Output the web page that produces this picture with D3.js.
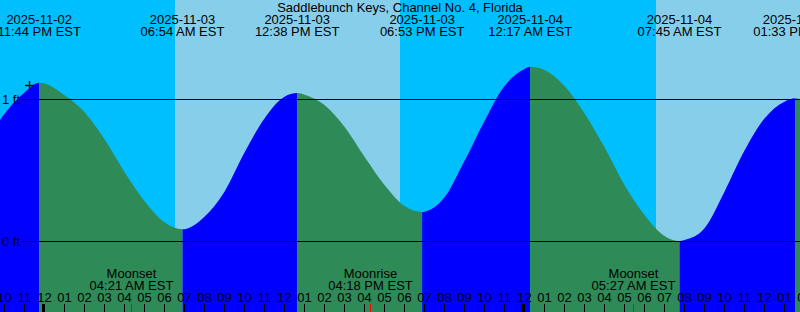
<!DOCTYPE html>
<html><head><meta charset="utf-8">
<script src="https://cdn.jsdelivr.net/npm/d3@7"></script>
<style>html,body{margin:0;padding:0;background:#00BFFF;overflow:hidden;} svg{display:block;}</style>
</head><body>
<svg id="chart" width="800" height="312"></svg>
<script>
// ---------- data ----------
const title = "Saddlebunch Keys, Channel No. 4, Florida";
const viewStart = "2025-11-02 21:46:30";
const viewEnd = "2025-11-04 13:46:30";

const tideTimes = [
  "2025-11-02 21:00","2025-11-02 22:00","2025-11-02 23:00","2025-11-02 23:44",
  "2025-11-03 00:00","2025-11-03 01:00","2025-11-03 02:00","2025-11-03 03:00",
  "2025-11-03 04:00","2025-11-03 05:00","2025-11-03 06:00","2025-11-03 06:54",
  "2025-11-03 07:00","2025-11-03 08:00","2025-11-03 09:00","2025-11-03 10:00",
  "2025-11-03 11:00","2025-11-03 12:00","2025-11-03 12:38","2025-11-03 13:00",
  "2025-11-03 14:00","2025-11-03 15:00","2025-11-03 16:00","2025-11-03 17:00",
  "2025-11-03 18:00","2025-11-03 18:53","2025-11-03 19:00","2025-11-03 20:00",
  "2025-11-03 21:00","2025-11-03 22:00","2025-11-03 23:00","2025-11-04 00:00",
  "2025-11-04 00:17","2025-11-04 01:00","2025-11-04 02:00","2025-11-04 03:00",
  "2025-11-04 04:00","2025-11-04 05:00","2025-11-04 06:00","2025-11-04 07:00",
  "2025-11-04 07:45","2025-11-04 08:00","2025-11-04 09:00","2025-11-04 10:00",
  "2025-11-04 11:00","2025-11-04 12:00","2025-11-04 13:00","2025-11-04 13:33",
  "2025-11-04 14:00"
];
const tideHeights = [
  0.68, 0.90, 1.05, 1.118,
  1.112, 1.03, 0.912, 0.72,
  0.49, 0.285, 0.135, 0.086,
  0.087, 0.175, 0.351, 0.626,
  0.867, 1.02, 1.046, 1.034,
  0.961, 0.808, 0.597, 0.398,
  0.25, 0.208, 0.21, 0.311,
  0.567, 0.849, 1.095, 1.215,
  1.231, 1.208, 1.095, 0.903,
  0.663, 0.398, 0.187, 0.039,
  0.003, 0.01, 0.093, 0.351,
  0.64, 0.867, 0.985, 1.008,
  0.995
];

const eventTimes = ["2025-11-02 23:44","2025-11-03 06:54","2025-11-03 12:38","2025-11-03 18:53",
                    "2025-11-04 00:17","2025-11-04 07:45","2025-11-04 13:33"];
const eventKinds = ["high","low","high","low","high","low","high"];

const sunTimes = ["2025-11-03 06:32","2025-11-03 17:46","2025-11-04 06:34"];
const sunKinds = ["sunrise","sunset","sunrise"];

const moonTimes = ["2025-11-03 04:21","2025-11-03 16:18","2025-11-04 05:27"];
const moonLabels = ["Moonset","Moonrise","Moonset"];

const datumLevels = [0, 1];
const datumLabels = ["0 ft", "1 ft"];

const markTime = "2025-11-02 23:16";
const markLevel = 1.10;

const tickStart = "2025-11-02 21:00";
const tickEnd = "2025-11-04 14:00";

// ---------- setup ----------
const W = 800, H = 312;
const FONT = "'Liberation Sans', Arial, sans-serif";
const colNight = "#00BFFF", colDay = "#87CEEB", colFlood = "#0000FF", colEbb = "#2E8B57";
const p = d3.utcParse("%Y-%m-%d %H:%M");
const ps = d3.utcParse("%Y-%m-%d %H:%M:%S");
const t0 = ps(viewStart), t1 = ps(viewEnd);

const x = d3.scaleUtc().domain([t0, t1]).range([0, W]);
const y = d3.scaleLinear().domain([0, 1]).range([241.5, 99.5]);

const svg = d3.select("#chart");

// sky bands
const sun = sunTimes.map(p);
const skyEdges = [t0, ...sun, t1];
const firstIsNight = sunKinds[0] === "sunrise";
const skyBands = d3.pairs(skyEdges).map(([a, b], i) => ({a, b, day: firstIsNight ? i % 2 === 1 : i % 2 === 0}));
svg.append("g").selectAll("rect").data(skyBands).join("rect")
  .attr("x", d => x(d.a)).attr("y", 0)
  .attr("width", d => x(d.b) - x(d.a)).attr("height", H)
  .attr("fill", d => d.day ? colDay : colNight)
  .attr("shape-rendering", "crispEdges");

// tide area, coloured by flood/ebb
const tide = tideTimes.map((t, i) => ({t: p(t), h: tideHeights[i]}));
const events = eventTimes.map((t, i) => ({t: p(t), kind: eventKinds[i]}));
const segEdges = [t0, ...events.map(e => e.t), t1];
const segs = d3.pairs(segEdges).map(([a, b], i) => {
  const nextKind = i < events.length ? events[i].kind : (events[events.length - 1].kind === "high" ? "low" : "high");
  return {a, b, rising: nextKind === "high"};
});
const area = d3.area().x(d => x(d.t)).y0(H).y1(d => y(d.h)).curve(d3.curveMonotoneX);
const defs = svg.append("defs");
segs.forEach((s, i) => {
  defs.append("clipPath").attr("id", "seg" + i).append("rect")
    .attr("x", x(s.a)).attr("y", 0).attr("width", x(s.b) - x(s.a)).attr("height", H);
});
svg.append("g").selectAll("path").data(segs).join("path")
  .attr("d", area(tide))
  .attr("clip-path", (d, i) => `url(#seg${i})`)
  .attr("fill", d => d.rising ? colFlood : colEbb);

// datum lines
const dg = svg.append("g");
datumLevels.forEach((lv, i) => {
  const yy = Math.floor(y(lv)) + 0.5;
  dg.append("line").attr("x1", 22).attr("x2", W).attr("y1", yy).attr("y2", yy)
    .attr("stroke", "#000").attr("stroke-width", 1);
  dg.append("text").attr("x", 20).attr("y", yy + 4.8).attr("text-anchor", "end")
    .attr("font-family", FONT).attr("font-size", 13).attr("fill", "#000").text(datumLabels[i]);
});

// plus mark
const mx = Math.floor(x(p(markTime))) + 0.5, my = Math.floor(y(markLevel)) + 0.5;
dg.append("line").attr("x1", mx - 4.5).attr("x2", mx + 4.5).attr("y1", my).attr("y2", my).attr("stroke", "#000").attr("stroke-width", 1.4);
dg.append("line").attr("x1", mx).attr("x2", mx).attr("y1", my - 4.5).attr("y2", my + 4.5).attr("stroke", "#000").attr("stroke-width", 1.4);

// title
svg.append("text").attr("x", W / 2).attr("y", 12).attr("text-anchor", "middle")
  .attr("font-family", FONT).attr("font-size", 13).attr("fill", "#000").text(title);

// event labels
const fDate = d3.utcFormat("%Y-%m-%d");
const fTime = d3.utcFormat("%I:%M %p EST");
const eg = svg.append("g").attr("font-family", FONT).attr("font-size", 13).attr("fill", "#000").attr("text-anchor", "middle");
events.forEach(e => {
  eg.append("text").attr("x", x(e.t)).attr("y", 24).text(fDate(e.t));
  eg.append("text").attr("x", x(e.t)).attr("y", 36).text(fTime(e.t));
});

// moon labels
const moons = moonTimes.map((t, i) => ({t: p(t), label: moonLabels[i]}));
moons.forEach(m => {
  eg.append("text").attr("x", x(m.t)).attr("y", 278).text(m.label);
  eg.append("text").attr("x", x(m.t)).attr("y", 290).text(fTime(m.t));
});

// hour ticks and labels
const hours = d3.utcHour.range(p(tickStart), d3.utcHour.offset(p(tickEnd), 1));
const fHour = d3.utcFormat("%I");
const tg = svg.append("g");
hours.forEach(h => {
  const xx = Math.floor(x(h));
  eg.append("text").attr("x", x(h)).attr("y", 302).text(fHour(h));
  const midnight = h.getUTCHours() === 0;
  tg.append("rect").attr("x", midnight ? xx - 2 : xx).attr("y", 304)
    .attr("width", midnight ? 3 : 1).attr("height", 8).attr("fill", "#000")
    .attr("shape-rendering", "crispEdges");
});
moons.forEach(m => {
  tg.append("rect").attr("x", Math.floor(x(m.t))).attr("y", 304).attr("width", 1).attr("height", 8)
    .attr("fill", "#FF0000").attr("shape-rendering", "crispEdges");
});
</script>
</body></html>
